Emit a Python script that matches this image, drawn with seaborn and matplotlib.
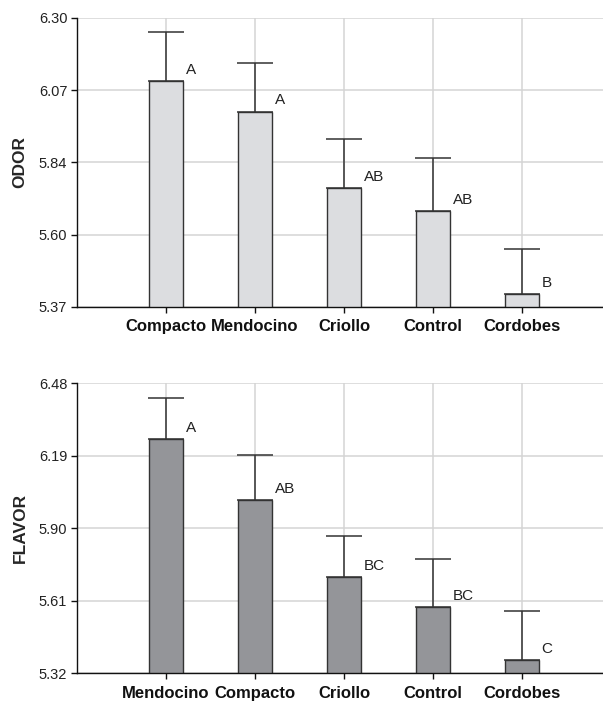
import numpy as np
import pandas as pd
import matplotlib
matplotlib.use("Agg")
from matplotlib import pyplot as plt
import seaborn as sns

# valores
odor_cultivars = ["Compacto", "Mendocino", "Criollo", "Control", "Cordobes"]
odor_mean = [6.096, 5.999, 5.754, 5.678, 5.413]
odor_err = [0.160, 0.157, 0.158, 0.173, 0.145]
odor_groups = ["A", "A", "AB", "AB", "B"]
odor_ticks = [5.37, 5.6025, 5.835, 6.0675, 6.30]
odor_ticklabels = ["5.37", "5.60", "5.84", "6.07", "6.30"]

flavor_cultivars = ["Mendocino", "Compacto", "Criollo", "Control", "Cordobes"]
flavor_mean = [6.258, 6.013, 5.704, 5.585, 5.373]
flavor_err = [0.164, 0.181, 0.165, 0.193, 0.196]
flavor_groups = ["A", "AB", "BC", "BC", "C"]
flavor_ticks = [5.32, 5.61, 5.90, 6.19, 6.48]
flavor_ticklabels = ["5.32", "5.61", "5.90", "6.19", "6.48"]

sns.set_style("white")
plt.rcParams['font.family'] = ['Liberation Sans', 'DejaVu Sans']

fig = plt.figure(figsize=(6.03, 7.02), dpi=100)
ax1 = fig.add_axes([0.1277, 0.5627, 0.8723, 0.4117])
ax2 = fig.add_axes([0.1277, 0.0409, 0.8723, 0.4131])


def panel(ax, cultivars, means, errs, groups, ticks, ticklabels, color, ylabel):
    df = pd.DataFrame({"cultivar": cultivars, "mean": means})
    sns.barplot(data=df, x="cultivar", y="mean", order=cultivars, color=color,
                saturation=1, edgecolor="#333333", linewidth=1.0, width=0.38,
                errorbar=None, ax=ax, zorder=2)
    pos = np.arange(len(cultivars))
    # error solo hacia arriba
    ax.errorbar(pos, means, yerr=[np.zeros(len(errs)), errs], fmt="none",
                ecolor="#333333", elinewidth=1.1, capsize=13, capthick=1.1, zorder=1)
    for p, m, g in zip(pos, means, groups):
        ax.annotate(g, xy=(p + 0.19, m), xytext=(2, 8), textcoords="offset points",
                    ha="left", va="center", fontsize=11, color="#222222")
    ax.set_xlim(-1, 4.91)
    ax.set_ylim(ticks[0], ticks[-1])
    ax.set_yticks(ticks)
    ax.set_yticklabels(ticklabels)
    ax.set_xlabel("")
    ax.set_ylabel(ylabel, fontsize=12.5, fontweight="bold", labelpad=8)
    ax.grid(True, color="#d4d4d4", linewidth=1.1)
    ax.set_axisbelow(True)
    for s in ["top", "right"]:
        ax.spines[s].set_visible(False)
    for s in ["left", "bottom"]:
        ax.spines[s].set_color("#111111")
        ax.spines[s].set_linewidth(1.0)
    ax.tick_params(axis="x", direction="out", length=4, width=1, color="#111111",
                   labelsize=12, pad=5, bottom=True)
    ax.tick_params(axis="y", direction="out", length=4, width=1, color="#111111",
                   labelsize=10.5, pad=3, left=True, labelcolor="#222222")
    for lab in ax.get_xticklabels():
        lab.set_fontweight("bold")
        lab.set_color("#111111")


panel(ax1, odor_cultivars, odor_mean, odor_err, odor_groups,
      odor_ticks, odor_ticklabels, "#dcdde0", "ODOR")
panel(ax2, flavor_cultivars, flavor_mean, flavor_err, flavor_groups,
      flavor_ticks, flavor_ticklabels, "#949599", "FLAVOR")

plt.savefig("out.png", dpi=100)
